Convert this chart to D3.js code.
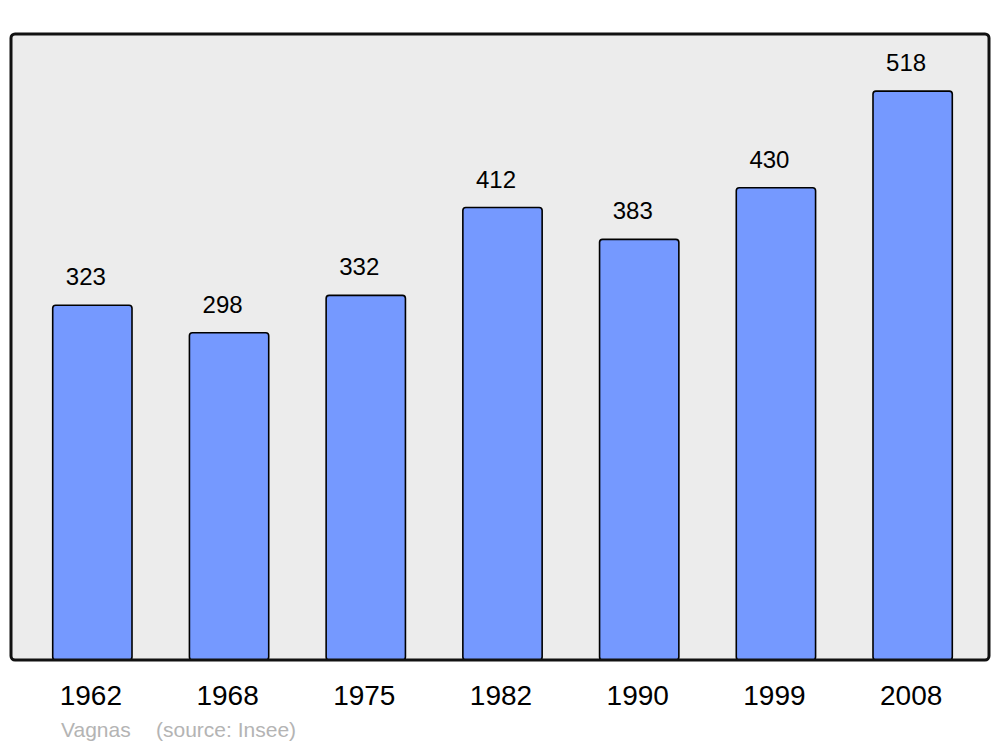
<!DOCTYPE html>
<html><head><meta charset="utf-8">
<script src="https://cdn.jsdelivr.net/npm/d3@7"></script>
<style>body{margin:0;background:#fff}svg{display:block}</style>
</head><body>
<script>
const years = ["1962","1968","1975","1982","1990","1999","2008"];
const population = [323, 298, 332, 412, 383, 430, 518];
const townName = "Vagnas";
const sourceText = "(source: Insee)";

const W = 1000, H = 747;
const frame = {x: 11, y: 34, w: 978, h: 626};
const svg = d3.select("body").append("svg").attr("width", W).attr("height", H);

svg.append("rect").attr("x", frame.x).attr("y", frame.y).attr("width", frame.w).attr("height", frame.h)
  .attr("rx", 4).attr("fill", "#ececec");

const x = d3.scaleBand().domain(years).range([24, 981]).paddingInner(0.42).paddingOuter(0.21);
const y = d3.scaleLinear().domain([0, 570]).range([frame.y + frame.h, frame.y]);

svg.selectAll("rect.bar").data(population).join("rect").attr("class", "bar")
  .attr("x", (d, i) => x(years[i]))
  .attr("y", d => y(d))
  .attr("width", x.bandwidth())
  .attr("height", d => y(0) - y(d))
  .attr("rx", 3)
  .attr("fill", "#7599ff").attr("stroke", "#000").attr("stroke-width", 1.6);

svg.selectAll("text.val").data(population).join("text").attr("class", "val")
  .attr("x", (d, i) => x(years[i]) + x.bandwidth() / 2 - 6.5)
  .attr("y", d => y(d) - 20)
  .attr("text-anchor", "middle")
  .attr("font-family", "Liberation Sans, Arial, sans-serif").attr("font-size", 24)
  .attr("fill", "#000").text(d => d);

// frame border on top
svg.append("rect").attr("x", frame.x).attr("y", frame.y).attr("width", frame.w).attr("height", frame.h)
  .attr("rx", 4).attr("fill", "none").attr("stroke", "#111").attr("stroke-width", 3);

const xAxis = svg.append("g").attr("transform", `translate(-1.5,${frame.y + frame.h})`)
  .call(d3.axisBottom(x).tickSize(0).tickPadding(0));
xAxis.select(".domain").remove();
xAxis.selectAll("text").attr("y", 45).attr("dy", 0)
  .attr("font-family", "Liberation Sans, Arial, sans-serif").attr("font-size", 28).attr("fill", "#000");

svg.append("text").attr("x", 61).attr("y", 737)
  .attr("font-family", "Liberation Sans, Arial, sans-serif").attr("font-size", 21).attr("fill", "#b4b4b4")
  .text(townName);
svg.append("text").attr("x", 156).attr("y", 737)
  .attr("font-family", "Liberation Sans, Arial, sans-serif").attr("font-size", 21).attr("fill", "#b4b4b4")
  .text(sourceText);
</script>
</body></html>
